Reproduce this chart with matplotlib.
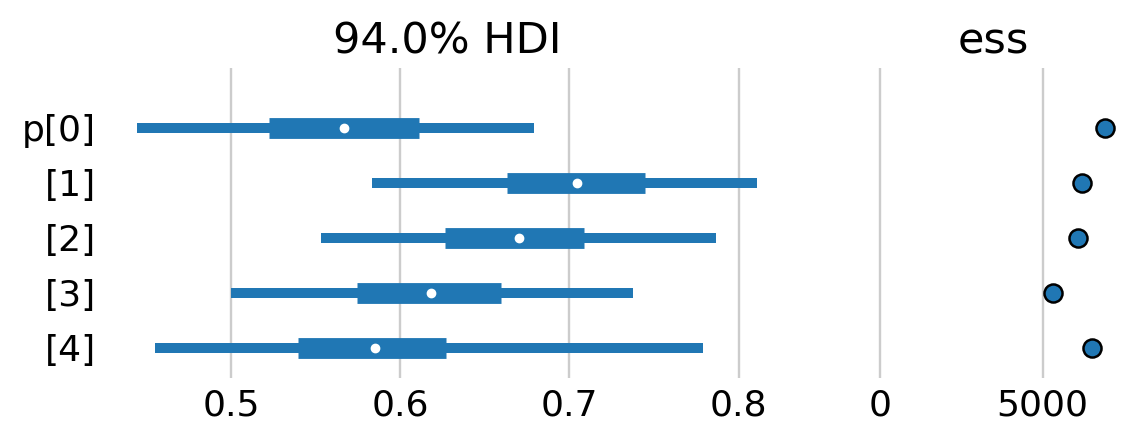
import matplotlib
matplotlib.use("Agg")
import matplotlib.pyplot as plt

# values
labels = ["p[0]", "[1]", "[2]", "[3]", "[4]"]
hdi_low = [0.4445, 0.5832, 0.5531, 0.5000, 0.4552]
hdi_high = [0.6794, 0.8109, 0.7867, 0.7378, 0.7791]
iqr_low = [0.5224, 0.6634, 0.6268, 0.5743, 0.5395]
iqr_high = [0.6109, 0.7448, 0.7088, 0.6599, 0.6274]
medians = [0.5667, 0.7047, 0.6705, 0.6180, 0.5850]
ess = [6902, 6196, 6074, 5307, 6503]

color = "#2077b4"
W, H = 1132, 443
fig = plt.figure(figsize=(W / 100, H / 100), dpi=100)

ax_bottom = (H - 377.7) / H
ax_height = (377.7 - 67.7) / H
ax = fig.add_axes([106 / W, ax_bottom, 682 / W, ax_height])
ax_ess = fig.add_axes([870 / W, ax_bottom, 246 / W, ax_height])

y = list(range(len(labels)))
for i in y:
    ax.plot([hdi_low[i], hdi_high[i]], [i, i], color=color, lw=7.2, solid_capstyle="butt")
    ax.plot([iqr_low[i], iqr_high[i]], [i, i], color=color, lw=15, solid_capstyle="butt")
    ax.plot(medians[i], i, "o", color="white", ms=6, mec="white")

ax_ess.plot(ess, y, "o", color=color, ms=13, mec="black", mew=1.8, clip_on=False)

for a in (ax, ax_ess):
    a.set_ylim(4 + 0.54, -1.095)
    for s in a.spines.values():
        s.set_visible(False)
    a.grid(axis="x", color="#cccccc", lw=1.7)
    a.set_axisbelow(True)
    a.tick_params(length=0, labelsize=26, pad=8)

ax.set_xlim(0.4262, 0.8292)
ax.set_xticks([0.5, 0.6, 0.7, 0.8])
ax.set_xticklabels(["0.5", "0.6", "0.7", "0.8"])
ax.set_yticks(y)
ax.set_yticklabels(labels)
ax.tick_params(axis="y", pad=7)
ax.set_title("94.0% HDI", fontsize=31, pad=10)

ax_ess.set_xlim(-300, 7250)
ax_ess.set_xticks([0, 5000])
ax_ess.set_yticks([])
ax_ess.set_title("ess", fontsize=31, pad=10)

fig.savefig("out.png", dpi=100)
